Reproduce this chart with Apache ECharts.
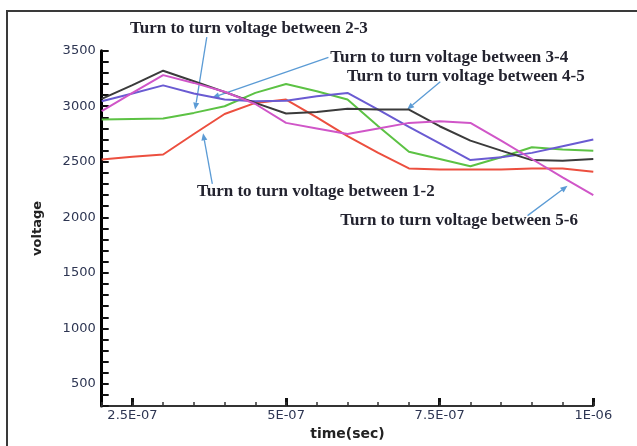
<!DOCTYPE html>
<html>
<head>
<meta charset="utf-8">
<script src="https://cdn.jsdelivr.net/npm/echarts@6/dist/echarts.min.js"></script>
<style>
  html, body { margin: 0; padding: 0; background: #fff; }
  #chart { width: 637px; height: 446px; }
</style>
</head>
<body>
<div id="chart"></div>
<script>
'use strict'
// time points (sec)
var times = [2e-7, 2.5e-7, 3e-7, 3.5e-7, 4e-7, 4.5e-7, 5e-7, 5.5e-7, 6e-7, 6.5e-7, 7e-7, 7.5e-7, 8e-7, 8.5e-7, 9e-7, 9.5e-7, 1e-6];
var xLabels = [2.5e-7, 5e-7, 7.5e-7, 1e-6];
var yLabels = [500, 1000, 1500, 2000, 2500, 3000, 3500];
var yMinor = [300, 400, 500, 600, 700, 800, 900, 1000, 1100, 1200, 1300, 1400, 1500, 1600, 1700, 1800, 1900, 2000,
  2100, 2200, 2300, 2400, 2500, 2600, 2700, 2800, 2900, 3000, 3100, 3200, 3300, 3400, 3500];

// voltages
var v12 = [2520, 2545, 2565, 2750, 2930, 3030, 3060, 2900, 2730, 2580, 2440, 2430, 2430, 2430, 2440, 2440, 2410];
var v23 = [2880, 2885, 2890, 2940, 3000, 3120, 3200, 3135, 3060, 2820, 2590, 2525, 2460, 2540, 2630, 2610, 2600];
var v34 = [3045, 3115, 3188, 3115, 3060, 3045, 3050, 3090, 3120, 2970, 2815, 2665, 2515, 2540, 2580, 2640, 2700];
var v45 = [3066, 3190, 3320, 3225, 3128, 3030, 2935, 2947, 2977, 2970, 2970, 2820, 2690, 2600, 2515, 2510, 2525];
var v56 = [2955, 3120, 3280, 3210, 3130, 3020, 2850, 2800, 2750, 2800, 2850, 2865, 2850, 2690, 2525, 2360, 2200];

// annotations: text, where the text starts, arrow tail, arrow tip (data space)
var annoText = ['Turn to turn voltage between 2-3', 'Turn to turn voltage between 3-4', 'Turn to turn voltage between 4-5',
  'Turn to turn voltage between 1-2', 'Turn to turn voltage between 5-6'];
var annoAt = [[2.46e-7, 3703], [5.72e-7, 3435], [5.99e-7, 3265], [3.55e-7, 2229], [5.88e-7, 1970]];
var annoFrom = [[3.71e-7, 3622], [5.69e-7, 3440], [7.51e-7, 3220], [3.80e-7, 2300], [8.93e-7, 2015]];
var annoTo = [[3.52e-7, 2970], [3.80e-7, 3078], [6.97e-7, 2970], [3.65e-7, 2756], [9.58e-7, 2283]];

function pairs(vals) {
  return times.map(function (t, i) { return [t, vals[i]]; });
}

function expLabel(v) {
  var p = v.toExponential().split('e');
  var e = parseInt(p[1], 10);
  var a = Math.abs(e);
  return p[0] + 'E' + (e < 0 ? '-' : '+') + (a < 10 ? '0' : '') + a;
}

var chart = echarts.init(document.getElementById('chart'));
var tickFont = { fontFamily: 'DejaVu Sans', fontSize: 13, color: '#2d3552' };
var frame = { type: 'polyline', shape: { points: [[7, 446], [7, 11], [637, 11]] }, style: { stroke: '#3a3a3a', lineWidth: 2, fill: null } };

chart.setOption({
  animation: false,
  grid: { left: 101.7, right: 43.7, top: 50.7, bottom: 37 },
  xAxis: [
    {
      type: 'value', min: 2e-7, max: 1e-6,
      name: 'time(sec)', nameLocation: 'middle', nameGap: 20,
      nameTextStyle: { fontFamily: 'DejaVu Sans', fontWeight: 'bold', fontSize: 14, color: '#222' },
      splitLine: { show: false },
      axisLine: { lineStyle: { color: '#333', width: 2 } },
      axisTick: { inside: true, length: 8, customValues: xLabels, lineStyle: { color: '#111', width: 3 } },
      axisLabel: Object.assign({ customValues: xLabels, formatter: expLabel, margin: 3 }, tickFont)
    },
    {
      type: 'value', min: 2e-7, max: 1e-6, position: 'bottom',
      splitLine: { show: false }, axisLine: { show: false }, axisLabel: { show: false },
      axisTick: { inside: true, length: 4, customValues: times, lineStyle: { color: '#333', width: 1.5 } }
    }
  ],
  yAxis: [
    {
      type: 'value', min: 300, max: 3500,
      name: 'voltage', nameLocation: 'middle', nameGap: 58,
      nameTextStyle: { fontFamily: 'DejaVu Sans', fontWeight: 'bold', fontSize: 13, color: '#222' },
      splitLine: { show: false },
      axisLine: { show: true, lineStyle: { color: '#000', width: 3 } },
      axisTick: { show: false },
      axisLabel: Object.assign({ customValues: yLabels, margin: 6, formatter: function (v) { return String(v); } }, tickFont)
    },
    {
      type: 'value', min: 300, max: 3500, position: 'left',
      splitLine: { show: false }, axisLine: { show: false }, axisLabel: { show: false },
      axisTick: { show: true, inside: true, length: 7, customValues: yMinor, lineStyle: { color: '#111', width: 2 } }
    }
  ],
  graphic: [frame],
  series: [
    { name: '1-2', type: 'line', symbol: 'none', data: pairs(v12), lineStyle: { color: '#ec4f3f', width: 2 } },
    { name: '2-3', type: 'line', symbol: 'none', data: pairs(v23), lineStyle: { color: '#5cc244', width: 2 } },
    { name: '3-4', type: 'line', symbol: 'none', data: pairs(v34), lineStyle: { color: '#6a5bd2', width: 2 } },
    { name: '4-5', type: 'line', symbol: 'none', data: pairs(v45), lineStyle: { color: '#3b3b3b', width: 2 } },
    { name: '5-6', type: 'line', symbol: 'none', data: pairs(v56), lineStyle: { color: '#d056c8', width: 2 } }
  ]
});

// annotations placed through the chart's own scales
var extra = [];
annoText.forEach(function (txt, i) {
  var at = chart.convertToPixel({ xAxisIndex: 0, yAxisIndex: 0 }, annoAt[i]);
  var a = chart.convertToPixel({ xAxisIndex: 0, yAxisIndex: 0 }, annoFrom[i]);
  var b = chart.convertToPixel({ xAxisIndex: 0, yAxisIndex: 0 }, annoTo[i]);
  var ang = Math.atan2(b[1] - a[1], b[0] - a[0]);
  var hl = 7, hw = 3;
  var bx = b[0] - hl * Math.cos(ang), by = b[1] - hl * Math.sin(ang);
  extra.push({ type: 'line', shape: { x1: a[0], y1: a[1], x2: bx, y2: by }, style: { stroke: '#5b9bd5', lineWidth: 1.3 } });
  extra.push({
    type: 'polygon',
    shape: { points: [b, [bx - hw * Math.sin(ang), by + hw * Math.cos(ang)], [bx + hw * Math.sin(ang), by - hw * Math.cos(ang)]] },
    style: { fill: '#5b9bd5' }
  });
  extra.push({
    type: 'text', x: at[0], y: at[1],
    style: { text: txt, font: 'bold 17px "Liberation Serif"', fill: '#23232f', verticalAlign: 'middle', align: 'left' }
  });
});
chart.setOption({ graphic: [frame].concat(extra) });
</script>
</body>
</html>
